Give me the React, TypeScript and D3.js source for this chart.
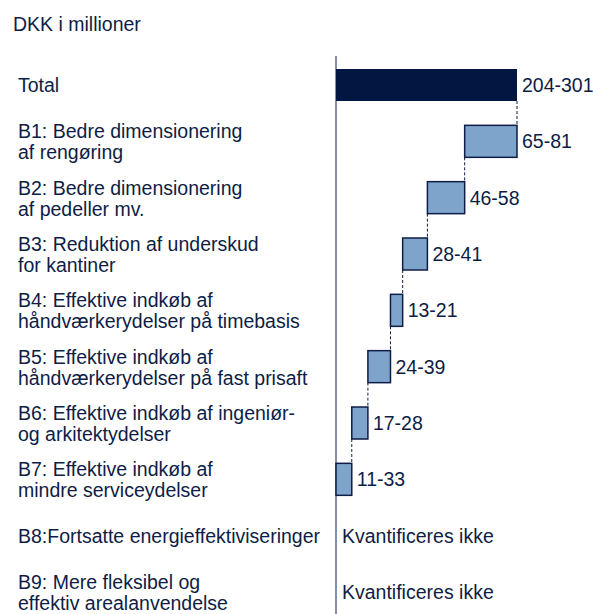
import React, { useEffect, useRef } from "react";
import * as d3 from "d3";

// DKK i millioner, low and high estimate per item
const categories = ["B1", "B2", "B3", "B4", "B5", "B6", "B7"];
const labels = [
  ["B1: Bedre dimensionering", "af rengøring"],
  ["B2: Bedre dimensionering", "af pedeller mv."],
  ["B3: Reduktion af underskud", "for kantiner"],
  ["B4: Effektive indkøb af", "håndværkerydelser på timebasis"],
  ["B5: Effektive indkøb af", "håndværkerydelser på fast prisaft"],
  ["B6: Effektive indkøb af ingeniør-", "og arkitektydelser"],
  ["B7: Effektive indkøb af", "mindre serviceydelser"],
];
const lowValues = [65, 46, 28, 13, 24, 17, 11];
const highValues = [81, 58, 41, 21, 39, 28, 33];
const notQuantified = [
  ["B8:Fortsatte energieffektiviseringer"],
  ["B9: Mere fleksibel og", "effektiv arealanvendelse"],
];
const totalLabel = "Total";
const notQuantifiedText = "Kvantificeres ikke";

const W = 593;
const H = 614;
const NAVY = "#0e1d45";
const DARK = "#011640";
const LIGHT = "#7fa4cc";
const FONT = "'Liberation Sans', Arial, sans-serif";

function App() {
  const ref = useRef(null);

  useEffect(() => {
    document.body.style.margin = "0";
    const svg = d3.select(ref.current);
    svg.selectAll("*").remove();

    const mids = lowValues.map((v, i) => (v + highValues[i]) / 2);
    const totalMid = d3.sum(mids);
    const totalLow = d3.sum(lowValues);
    const totalHigh = d3.sum(highValues);

    const x = d3.scaleLinear().domain([0, totalMid]).range([336, 517]);
    const rows = [totalLabel, ...categories, "B8", "B9"];
    const y = d3.scalePoint().domain(rows).range([85, 592]);
    const barH = 32;
    const labelX = 18;

    const g = svg.append("g").attr("font-family", FONT).attr("font-size", 19.5).attr("fill", NAVY);

    g.append("text").attr("x", 13).attr("y", 31).text("DKK i millioner");

    // axis line
    g.append("line")
      .attr("x1", x(0)).attr("x2", x(0))
      .attr("y1", 56).attr("y2", H)
      .attr("stroke", "#5b6b8c").attr("stroke-width", 1.5);

    // bars: start/end of each step
    let end = totalMid;
    const steps = mids.map((m, i) => {
      const s = { key: categories[i], x0: end - m, x1: end, low: lowValues[i], high: highValues[i] };
      end -= m;
      return s;
    });

    // total bar
    g.append("rect")
      .attr("x", x(0)).attr("y", y(totalLabel) - barH / 2)
      .attr("width", x(totalMid) - x(0)).attr("height", barH)
      .attr("fill", DARK);
    g.append("text")
      .attr("x", x(totalMid) + 5).attr("y", y(totalLabel) + 7)
      .text(`${totalLow}-${totalHigh}`);
    g.append("text").attr("x", labelX).attr("y", y(totalLabel) + 7).text(totalLabel);

    // connectors
    const prevBottom = [y(totalLabel) + barH / 2, ...steps.slice(0, -1).map(s => y(s.key) + barH / 2)];
    g.selectAll(".conn")
      .data(steps)
      .enter()
      .append("line")
      .attr("x1", d => x(d.x1)).attr("x2", d => x(d.x1))
      .attr("y1", (d, i) => prevBottom[i])
      .attr("y2", d => y(d.key) - barH / 2)
      .attr("stroke", NAVY).attr("stroke-width", 1)
      .attr("stroke-dasharray", "3,2");

    g.selectAll(".step")
      .data(steps)
      .enter()
      .append("rect")
      .attr("x", d => x(d.x0)).attr("y", d => y(d.key) - barH / 2)
      .attr("width", d => x(d.x1) - x(d.x0)).attr("height", barH)
      .attr("fill", LIGHT).attr("stroke", NAVY).attr("stroke-width", 1.5);

    g.selectAll(".val")
      .data(steps)
      .enter()
      .append("text")
      .attr("x", d => x(d.x1) + 5).attr("y", d => y(d.key) + 7)
      .text(d => `${d.low}-${d.high}`);

    const drawLabel = (lines, cy) => {
      const t = g.append("text").attr("x", labelX);
      if (lines.length === 1) {
        t.attr("y", cy + 7).text(lines[0]);
      } else {
        t.append("tspan").attr("x", labelX).attr("y", cy - 3).text(lines[0]);
        t.append("tspan").attr("x", labelX).attr("y", cy + 18).text(lines[1]);
      }
    };
    categories.forEach((c, i) => drawLabel(labels[i], y(c)));

    ["B8", "B9"].forEach((c, i) => {
      drawLabel(notQuantified[i], y(c));
      g.append("text").attr("x", x(0) + 6).attr("y", y(c) + 7).text(notQuantifiedText);
    });
  }, []);

  return <svg ref={ref} width={W} height={H} style={{ display: "block" }} />;
}

export default App;
